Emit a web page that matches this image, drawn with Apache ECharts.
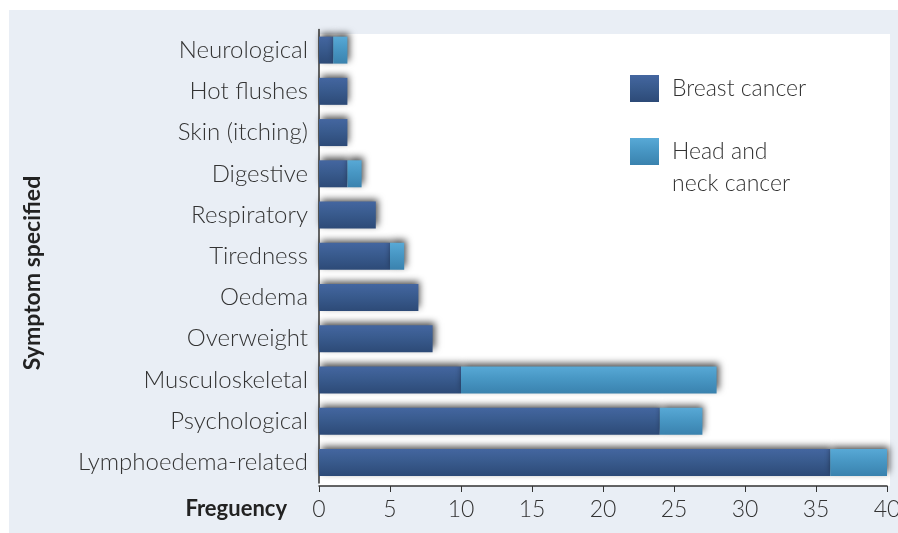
<!DOCTYPE html>
<html><head><meta charset="utf-8">
<script src="https://cdn.jsdelivr.net/npm/echarts@6/dist/echarts.min.js"></script>
<style>html,body{margin:0;padding:0;background:#fff}#c{width:898px;height:533px}</style>
</head><body><div id="c"></div>
<script>
const categories = ['Neurological','Hot flushes','Skin (itching)','Digestive','Respiratory','Tiredness','Oedema','Overweight','Musculoskeletal','Psychological','Lymphoedema-related'];
const breastCancer = [1,2,2,2,4,5,7,8,10,24,36];
const headNeckCancer = [1,0,0,1,0,1,0,0,18,3,4];
const xTicks = [0,5,10,15,20,25,30,35,40];
const seriesNames = ['Breast cancer','Head and neck cancer'];

const font = 'Lato, "Open Sans", sans-serif';
const txt = '#333';
function grad(a,b,c){return {type:'linear',x:0,y:0,x2:0,y2:1,colorStops:[{offset:0,color:a},{offset:0.45,color:b},{offset:1,color:c}]};}
const shadow = {shadowBlur:7, shadowColor:'rgba(0,0,0,0.7)', shadowOffsetX:2, shadowOffsetY:-3};

const chart = echarts.init(document.getElementById('c'));
chart.setOption({
  backgroundColor:'#fff',
  animation:false,
  graphic:[
    {type:'rect', z:-10, shape:{x:9,y:10,width:889,height:523}, style:{fill:'#e9eef5'}},
    {type:'rect', z:-9, shape:{x:319,y:34,width:571,height:452}, style:{fill:'#ffffff'}},
    {type:'text', right:611, top:498, style:{text:'Freguency', font:'bold 22px '+font, fill:'#222', align:'right'}},
    {type:'text', x:33, y:273, rotation:Math.PI/2, style:{text:'Symptom specified', font:'bold 23px '+font, fill:'#222', align:'center', verticalAlign:'middle'}}
  ],
  legend:{
    orient:'vertical', left:630, top:72.5, padding:0, itemGap:-1,
    itemWidth:29, itemHeight:27, icon:'rect',
    textStyle:{fontFamily:font, fontSize:23, fontWeight:300, color:txt, lineHeight:32, padding:[0,0,0,8]},
    formatter: n => n === seriesNames[1] ? ' \nHead and\nneck cancer' : n,
    data:[seriesNames[0], seriesNames[1]]
  },
  grid:{left:319, right:11, top:29.5, bottom:50, containLabel:false, outerBoundsMode:'none'},
  xAxis:{
    type:'value', min:0, max:40, interval:5, offset:3,
    axisLine:{show:true, lineStyle:{color:'#333', width:1.5}},
    axisTick:{show:true, length:6, lineStyle:{color:'#333'}},
    splitLine:{show:false},
    axisLabel:{fontFamily:font, fontSize:23, fontWeight:300, color:txt, margin:12,
      formatter:v => xTicks.includes(v) ? String(v) : ''}
  },
  yAxis:{
    type:'category', data:categories, inverse:true,
    axisLine:{show:true, lineStyle:{color:'#333', width:1.5}},
    axisTick:{show:false},
    axisLabel:{fontFamily:font, fontSize:24, fontWeight:300, color:txt, margin:11}
  },
  series:[
    {name:seriesNames[0], type:'bar', stack:'s', data:breastCancer, barWidth:27,
      itemStyle:Object.assign({color:grad('#4466a0','#395b8e','#2d4a77')}, shadow)},
    {name:seriesNames[1], type:'bar', stack:'s', data:headNeckCancer, barWidth:27,
      itemStyle:Object.assign({color:grad('#58a9d6','#4897c4','#3a82ae')}, shadow)}
  ]
});
</script></body></html>
